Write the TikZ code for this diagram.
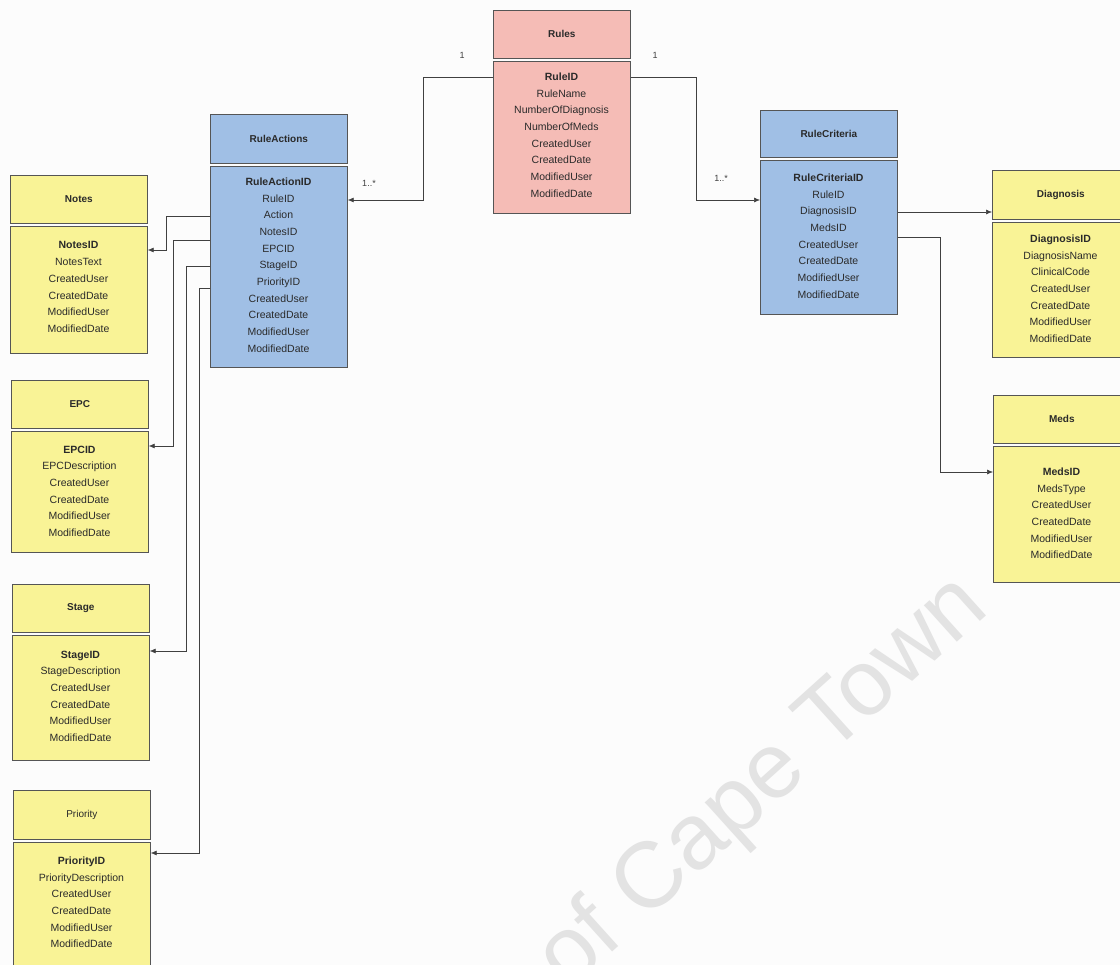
\documentclass[tikz,border=0pt]{standalone}
\usepackage{fontspec}
\setmainfont{Liberation Sans}
\usetikzlibrary{arrows.meta}

\definecolor{pinkc}{HTML}{F5BCB6}
\definecolor{bluec}{HTML}{A0BFE5}
\definecolor{yellc}{HTML}{F9F396}
\definecolor{edgec}{HTML}{555555}
\definecolor{linec}{HTML}{404040}
\definecolor{txtc}{HTML}{2A2A2A}
\definecolor{markc}{HTML}{E3E3E3}

\tikzset{
  hdr/.style={draw=edgec, line width=0.7pt, minimum width=137pt, inner sep=0pt,
    text=txtc, font=\fontsize{10}{12}\selectfont},
  bodybox/.style={draw=edgec, line width=0.7pt, minimum width=137pt, inner sep=0pt},
  fields/.style={align=center, inner sep=0pt, text=txtc,
    font=\fontsize{10.5}{16.7}\selectfont},
  conn/.style={draw=linec, line width=0.6pt},
  arr/.style={conn, -{Latex[length=6pt,width=5pt]}},
  mult/.style={text=linec, inner sep=0pt, font=\fontsize{9}{10}\selectfont},
}

% one table: name, colour, left x, header top, header bottom, body bottom,
% first field line, title, fields
\newcommand\ertable[9]{%
  \node[hdr, fill=#2, anchor=north west, minimum height={(#5-#4)*1pt}] (#1h) at (#3,#4) {#8};
  \node[bodybox, fill=#2, anchor=north west, minimum height={(#6-#5-3)*1pt}] (#1b) at (#3,#5+3) {};
  \node[fields, anchor=north] (#1f) at (#3+68.5,#7-4.5) {#9};
}

\begin{document}
\begin{tikzpicture}[x=1pt, y=-1pt]
  \useasboundingbox (0,0) rectangle (1120,965);
  \clip (0,0) rectangle (1120,965);
  \fill[white!98!black!50!white] (0,0) rectangle (1120,965);

  % watermark
  \node[text=markc, rotate=42, anchor=base west, inner sep=0pt,
        font=\fontsize{93}{93}\selectfont] (wm) at (568,992) {of Cape Town};

  \ertable{rl}{pinkc}{493}{10}{58}{213}{77}{\bfseries Rules}
    {\textbf{RuleID}\\RuleName\\NumberOfDiagnosis\\NumberOfMeds\\CreatedUser\\CreatedDate\\ModifiedUser\\ModifiedDate}
  \ertable{ra}{bluec}{210}{114}{163}{367}{182}{\bfseries RuleActions}
    {\textbf{RuleActionID}\\RuleID\\Action\\NotesID\\EPCID\\StageID\\PriorityID\\CreatedUser\\CreatedDate\\ModifiedUser\\ModifiedDate}
  \ertable{rc}{bluec}{760}{110}{157}{314}{178}{\bfseries RuleCriteria}
    {\textbf{RuleCriteriaID}\\RuleID\\DiagnosisID\\MedsID\\CreatedUser\\CreatedDate\\ModifiedUser\\ModifiedDate}
  \ertable{dg}{yellc}{992}{170}{219}{357}{239}{\bfseries Diagnosis}
    {\textbf{DiagnosisID}\\DiagnosisName\\ClinicalCode\\CreatedUser\\CreatedDate\\ModifiedUser\\ModifiedDate}
  \ertable{md}{yellc}{993}{395}{443}{582}{472}{\bfseries Meds}
    {\textbf{MedsID}\\MedsType\\CreatedUser\\CreatedDate\\ModifiedUser\\ModifiedDate}
  \ertable{nt}{yellc}{10}{175}{223}{353}{246}{\bfseries Notes}
    {\textbf{NotesID}\\NotesText\\CreatedUser\\CreatedDate\\ModifiedUser\\ModifiedDate}
  \ertable{ep}{yellc}{11}{380}{428}{552}{450}{\bfseries EPC}
    {\textbf{EPCID}\\EPCDescription\\CreatedUser\\CreatedDate\\ModifiedUser\\ModifiedDate}
  \ertable{st}{yellc}{12}{584}{632}{760}{655}{\bfseries Stage}
    {\textbf{StageID}\\StageDescription\\CreatedUser\\CreatedDate\\ModifiedUser\\ModifiedDate}
  \ertable{pr}{yellc}{13}{790}{839}{980}{861}{Priority}
    {\textbf{PriorityID}\\PriorityDescription\\CreatedUser\\CreatedDate\\ModifiedUser\\ModifiedDate}

  % Rules -> RuleActions, Rules -> RuleCriteria
  \draw[arr] (rlb.west |- 0,77) -- ++(-70,0) |- (rab.east |- 0,200);
  \draw[arr] (rlb.east |- 0,77) -- ++(66,0) |- (rcb.west |- 0,200);
  \node[mult] (m1) at (462,55) {1};
  \node[mult] (m2) at (655,55) {1};
  \node[mult] (m3) at (369,183) {1..*};
  \node[mult] (m4) at (721,178) {1..*};

  % RuleCriteria -> Diagnosis, Meds
  \draw[arr] (rcb.east |- 0,212) -- (dgh.west |- 0,212);
  \draw[arr] (rcb.east |- 0,237) -- ++(43,0) |- (mdb.west |- 0,472);

  % RuleActions -> lookup tables
  \draw[arr] (rab.west |- 0,216) -- ++(-44,0) |- (ntb.east |- 0,250);
  \draw[arr] (rab.west |- 0,240) -- ++(-37,0) |- (epb.east |- 0,446);
  \draw[arr] (rab.west |- 0,266) -- ++(-24,0) |- (stb.east |- 0,651);
  \draw[arr] (rab.west |- 0,288) -- ++(-11,0) |- (prb.east |- 0,853);
\end{tikzpicture}
\end{document}
